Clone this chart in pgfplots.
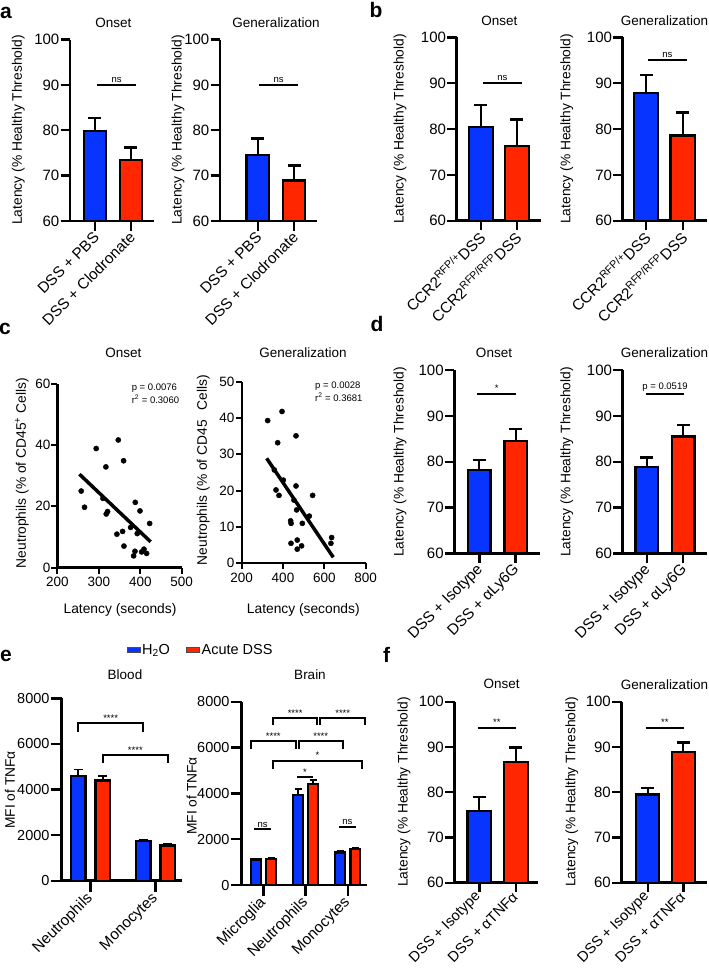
\documentclass[border=0pt]{standalone}
\usepackage{fontspec}
\setmainfont{Liberation Sans}
\usepackage{pgfplots}
\pgfplotsset{compat=1.18}
\definecolor{pblue}{RGB}{8,52,255}
\definecolor{pred}{RGB}{255,38,0}
\newcommand\fs[1]{\fontsize{#1}{#1}\selectfont}
\pgfplotsset{
 base/.style={scale only axis, clip mode=individual, axis x line*=bottom, axis y line*=left,
   axis line style={-,line width=2.6pt,black}, tick align=outside, major tick length=9.5pt,
   every tick/.style={black,line width=2.4pt},
   /pgf/number format/assume math mode=true, /pgf/number format/1000 sep={},
   scaled y ticks=false, scaled x ticks=false, tick label style={font=\fs{15}},
   yticklabel style={inner sep=1pt}},
 latbar/.style={base, ymin=60, ymax=100, ytick={60,70,80,90,100}, xtick={0,1},
   xticklabel style={rotate=45, anchor=east, font=\fs{15.3}, inner sep=3pt, yshift=-4pt, xshift=1pt}},
 pbar/.style={ybar, bar shift=0pt, draw=black, line width=2.3pt, error bars/.cd, y dir=plus, y explicit,
   error mark=|, error bar style={line width=2.3pt, black}, error mark options={black, line width=2.3pt, mark size=6.5pt}},
 sig/.style={black, line width=2pt},
 sc/.style={base, axis line style={-,line width=2.2pt,black}, every tick/.style={black,line width=2pt}, tick label style={font=\fs{13.5}}, major tick length=6pt},
}
\begin{document}
\begin{tikzpicture}
\path[use as bounding box] (0pt,0pt) rectangle (709pt,-969pt);
% panel letters
\node[font=\fs{21}\bfseries] at (6pt,-13pt) {a};
\node[font=\fs{21}\bfseries] at (376pt,-10pt) {b};
\node[font=\fs{21}\bfseries] at (5pt,-329pt) {c};
\node[font=\fs{21}\bfseries] at (377pt,-324pt) {d};
\node[font=\fs{21}\bfseries] at (6pt,-656pt) {e};
\node[font=\fs{21}\bfseries] at (386.7pt,-655pt) {f};
% titles
\begin{scope}[every node/.style={font=\fs{13.5}}]
\node at (113.3pt,-22.7pt) {Onset};
\node at (276pt,-22.7pt) {Generalization};
\node at (499.3pt,-20.7pt) {Onset};
\node at (664.5pt,-20.7pt) {Generalization};
\node at (123.3pt,-353pt) {Onset};
\node at (303pt,-353pt) {Generalization};
\node at (494pt,-353.3pt) {Onset};
\node at (664.5pt,-353pt) {Generalization};
\node at (125pt,-674.3pt) {Blood};
\node at (310pt,-674.3pt) {Brain};
\node at (501.7pt,-684.3pt) {Onset};
\node at (664.5pt,-684.3pt) {Generalization};
\end{scope}
% y labels
\begin{scope}[every node/.style={font=\fs{13.8}, rotate=90}]
\node at (18.3pt,-130pt) {Latency (\% Healthy Threshold)};
\node at (178pt,-130pt) {Latency (\% Healthy Threshold)};
\node at (400pt,-129pt) {Latency (\% Healthy Threshold)};
\node at (566.7pt,-129pt) {Latency (\% Healthy Threshold)};
\node at (22pt,-473pt) {Neutrophils (\% of CD45\textsuperscript{+} Cells)};
\node at (203pt,-470pt) {Neutrophils (\% of CD45\phantom{\textsuperscript{+}} Cells)};
\node at (400pt,-462pt) {Latency (\% Healthy Threshold)};
\node at (566.7pt,-462pt) {Latency (\% Healthy Threshold)};
\node at (10pt,-790pt) {MFI of TNFα};
\node at (191.7pt,-796pt) {MFI of TNFα};
\node at (404pt,-792pt) {Latency (\% Healthy Threshold)};
\node at (571.7pt,-792pt) {Latency (\% Healthy Threshold)};
\end{scope}
\node[font=\fs{13.8}] at (120pt,-610pt) {Latency (seconds)};
\node[font=\fs{13.8}] at (303.3pt,-610pt) {Latency (seconds)};
\node[font=\fs{9.5}, anchor=west, align=left] at (128.3pt,-388.3pt) {p = 0.0076};
\node[font=\fs{9.5}, anchor=west, align=left] at (128.3pt,-399pt) {r\textsuperscript{2} = 0.3060};
\node[font=\fs{9.5}, anchor=west, align=left] at (311.7pt,-386pt) {p = 0.0028};
\node[font=\fs{9.5}, anchor=west, align=left] at (311.7pt,-397pt) {r\textsuperscript{2} = 0.3681};

% ---------- a left
\begin{axis}[latbar, at={(70pt,-221pt)}, width=84pt, height=181.5pt, xmin=-0.694, xmax=1.639, bar width=0.6,
  xticklabels={DSS + PBS, DSS + Clodronate}]
\addplot[fill=pblue, pbar] coordinates {(0,79.9) +- (0,2.8)};
\addplot[fill=pred, pbar] coordinates {(1,73.4) +- (0,2.8)};
\addplot[sig] coordinates {(0.06,90) (1.14,90)};
\node[font=\fs{9.5}, above, inner sep=2pt] at (axis cs:0.6,90) {ns};
\end{axis}
% ---------- a right
\begin{axis}[latbar, at={(220pt,-221pt)}, width=97.3pt, height=181.5pt, xmin=-1.039, xmax=1.642, bar width=0.62,
  xticklabels={DSS + PBS, DSS + Clodronate}]
\addplot[fill=pblue, pbar] coordinates {(0,74.5) +- (0,3.7)};
\addplot[fill=pred, pbar] coordinates {(1,68.9) +- (0,3.3)};
\addplot[sig] coordinates {(0.04,90) (1.11,90)};
\node[font=\fs{9.5}, above, inner sep=2pt] at (axis cs:0.575,90) {ns};
\end{axis}
% ---------- b left
\begin{axis}[latbar, at={(456.7pt,-220.7pt)}, width=84.3pt, height=183.4pt, xmin=-0.667, xmax=1.675, bar width=0.67,
  xticklabels={CCR2\textsuperscript{RFP/+}DSS, CCR2\textsuperscript{RFP/RFP}DSS}]
\addplot[fill=pblue, pbar] coordinates {(0,80.4) +- (0,4.8)};
\addplot[fill=pred, pbar] coordinates {(1,76.3) +- (0,5.8)};
\addplot[sig] coordinates {(0.06,90) (1.14,90)};
\node[font=\fs{9.5}, above, inner sep=2pt] at (axis cs:0.6,90) {ns};
\end{axis}
% ---------- b right
\begin{axis}[latbar, at={(622.7pt,-220.7pt)}, width=84.3pt, height=183.4pt, xmin=-0.635, xmax=1.662, bar width=0.67,
  xticklabels={CCR2\textsuperscript{RFP/+}DSS, CCR2\textsuperscript{RFP/RFP}DSS}]
\addplot[fill=pblue, pbar] coordinates {(0,87.8) +- (0,4.0)};
\addplot[fill=pred, pbar] coordinates {(1,78.6) +- (0,5.0)};
\addplot[sig] coordinates {(0.05,95) (1.12,95)};
\node[font=\fs{9.5}, above, inner sep=2pt] at (axis cs:0.585,95) {ns};
\end{axis}
% ---------- c left
\begin{axis}[sc, at={(57.5pt,-567.5pt)}, width=124.2pt, height=183.5pt, xmin=200, xmax=500, ymin=0, ymax=60,
  xtick={200,300,400,500}, ytick={0,20,40,60}]
\addplot[only marks, mark=*, mark size=2.6pt, black] coordinates {
(257.3,25.0) (265.3,19.7) (293.5,38.9) (316.9,32.9) (309.7,22.6) (317.7,17.5) (321,18.3) (346.8,41.7)
(359.7,34.9) (343.5,10.9) (357.3,11.8) (360.5,7.0) (376.6,13.1) (387.9,21.3) (399.2,18.5) (392.7,11.1)
(387.1,5.3) (383.9,3.8) (403.2,5.1) (408.9,6.0) (415.3,4.6) (422.6,14.4)};
\addplot[black, line width=3.5pt] coordinates {(253,30.5) (425,8.4)};
\end{axis}
% ---------- c right
\begin{axis}[sc, at={(241.7pt,-563.3pt)}, width=123.9pt, height=181.6pt, xmin=200, xmax=800, ymin=0, ymax=50,
  xtick={200,400,600,800}, ytick={0,10,20,30,40,50}]
\addplot[only marks, mark=*, mark size=2.6pt, black] coordinates {
(325.8,39.3) (395.2,41.8) (374.2,33.2) (462.9,35.1) (366.1,20.2) (380.6,18.7) (358,25.7) (401.6,22.9)
(462.9,21.3) (453,17.4) (466,14.7) (437,11.7) (439,11.0) (493.5,11.0) (527.4,13.0) (543.5,18.7)
(438.7,5.5) (469,6.4) (469,3.9) (490,4.8) (635.5,7.1) (632,5.5)};
\addplot[black, line width=3.5pt] coordinates {(321,28.9) (643.5,1.65)};
\end{axis}
% ---------- d left
\begin{axis}[latbar, at={(454.3pt,-553.5pt)}, width=85.7pt, height=183.5pt, xmin=-0.687, xmax=1.668, bar width=0.62,
  xticklabels={DSS + Isotype, DSS + αLy6G}]
\addplot[fill=pblue, pbar] coordinates {(0,78.2) +- (0,2.2)};
\addplot[fill=pred, pbar] coordinates {(1,84.6) +- (0,2.5)};
\addplot[sig] coordinates {(-0.05,94.8) (1.01,94.8)};
\node[font=\fs{9.5}, above, inner sep=2pt] at (axis cs:0.48,94.8) {*};
\end{axis}
% ---------- d right
\begin{axis}[latbar, at={(622.7pt,-553.5pt)}, width=84.3pt, height=183.5pt, xmin=-0.656, xmax=1.648, bar width=0.62,
  xticklabels={DSS + Isotype, DSS + αLy6G}]
\addplot[fill=pblue, pbar] coordinates {(0,78.9) +- (0,2.0)};
\addplot[fill=pred, pbar] coordinates {(1,85.5) +- (0,2.5)};
\addplot[sig] coordinates {(-0.03,94.8) (1.03,94.8)};
\node[font=\fs{9.5}, above, inner sep=2pt] at (axis cs:0.5,94.8) {p = 0.0519};
\end{axis}
% ---------- e blood
\begin{axis}[base, at={(61.7pt,-880.7pt)}, width=120pt, height=182.4pt, xmin=-0.443, xmax=1.403, ymin=0, ymax=8000,
  ytick={0,2000,4000,6000,8000}, xtick={0,1}, xticklabels={Neutrophils, Monocytes}, bar width=0.23,
  major tick length=11pt,
  tick label style={font=\fs{14.5}}, xticklabel style={rotate=45, anchor=east, font=\fs{15.3}, inner sep=3pt, yshift=-3pt},
  legend style={at={(1.157,1.265)}, anchor=center, draw=none, fill=none, legend columns=2, font=\fs{14.5},
    /tikz/every even column/.append style={column sep=14pt}}]
\addlegendimage{legend image code/.code={\draw[fill=pblue, draw=black!70, line width=0.6pt] (0pt,-2.2pt) rectangle (13pt,2.2pt);}}
\addlegendentry{H\textsubscript{2}O}
\addlegendimage{legend image code/.code={\draw[fill=pred, draw=black!70, line width=0.6pt] (0pt,-2.2pt) rectangle (13pt,2.2pt);}}
\addlegendentry{Acute DSS}
\addplot[forget plot, fill=pblue, line width=1.8pt, pbar, error bar style={line width=1.8pt}, error mark options={black,line width=1.8pt,mark size=4.5pt}] coordinates {(-0.19,4600) +- (0,280) (0.81,1750) +- (0,40)};
\addplot[forget plot, fill=pred, line width=1.8pt, pbar, error bar style={line width=1.8pt}, error mark options={black,line width=1.8pt,mark size=4.5pt}] coordinates {(0.19,4400) +- (0,180) (1.19,1550) +- (0,50)};
\addplot[forget plot, sig] coordinates {(-0.19,6530) (-0.19,6900) (0.81,6900) (0.81,6530)};
\addplot[forget plot, sig] coordinates {(0.19,5170) (0.19,5510) (1.19,5510) (1.19,5170)};
\node[font=\fs{9.5}, above, inner sep=1.5pt] at (axis cs:0.31,6900) {****};
\node[font=\fs{9.5}, above, inner sep=1.5pt] at (axis cs:0.69,5510) {****};
\end{axis}
% ---------- e brain
\begin{axis}[base, at={(241.7pt,-885pt)}, width=125pt, height=183.3pt, xmin=-0.52, xmax=2.449, ymin=0, ymax=8000,
  ytick={0,2000,4000,6000,8000}, xtick={0,1,2}, xticklabels={Microglia, Neutrophils, Monocytes}, bar width=0.235,
  major tick length=11pt,
  tick label style={font=\fs{14.5}}, xticklabel style={rotate=45, anchor=east, font=\fs{15.3}, inner sep=3pt, yshift=-3pt}]
\addplot[fill=pblue, line width=1.6pt, pbar, error bar style={line width=1.6pt}, error mark options={black,line width=1.6pt,mark size=3.5pt}] coordinates {(-0.18,1120) +- (0,45) (0.82,3930) +- (0,250) (1.82,1420) +- (0,60)};
\addplot[fill=pred, line width=1.6pt, pbar, error bar style={line width=1.6pt}, error mark options={black,line width=1.6pt,mark size=3.5pt}] coordinates {(0.18,1135) +- (0,40) (1.18,4400) +- (0,185) (2.18,1560) +- (0,55)};
\addplot[sig] coordinates {(0.23,7000) (0.23,7300) (1.27,7300) (1.27,7000)};
\addplot[sig] coordinates {(1.35,7000) (1.35,7300) (2.41,7300) (2.41,7000)};
\addplot[sig] coordinates {(-0.30,5920) (-0.30,6290) (0.76,6290) (0.76,5920)};
\addplot[sig] coordinates {(0.835,5920) (0.835,6290) (1.88,6290) (1.88,5920)};
\addplot[sig] coordinates {(0.23,5050) (0.23,5430) (2.33,5430) (2.33,5050)};
\addplot[sig] coordinates {(0.80,4700) (1.17,4700)};
\addplot[sig] coordinates {(-0.22,2430) (0.17,2430)};
\addplot[sig] coordinates {(1.79,2545) (2.19,2545)};
\begin{scope}[every node/.style={font=\fs{9.5}, above, inner sep=1.5pt}]
\node at (axis cs:0.75,7300) {****};
\node at (axis cs:1.88,7300) {****};
\node at (axis cs:0.23,6290) {****};
\node at (axis cs:1.357,6290) {****};
\node at (axis cs:1.28,5430) {*};
\node at (axis cs:0.985,4700) {*};
\node at (axis cs:-0.025,2430) {ns};
\node at (axis cs:1.99,2545) {ns};
\end{scope}
\end{axis}
% ---------- f left
\begin{axis}[latbar, at={(454.5pt,-882.7pt)}, width=83.8pt, height=181pt, xmin=-0.676, xmax=1.608, bar width=0.64,
  xticklabels={DSS + Isotype, DSS + αTNFα}, xticklabel style={font=\fs{14.6}, yshift=3pt}]
\addplot[fill=pblue, pbar] coordinates {(0,75.9) +- (0,3.1)};
\addplot[fill=pred, pbar] coordinates {(1,86.7) +- (0,3.2)};
\addplot[sig] coordinates {(-0.04,94.2) (1.0,94.2)};
\node[font=\fs{9.5}, above, inner sep=2pt] at (axis cs:0.48,94.2) {**};
\end{axis}
% ---------- f right
\begin{axis}[latbar, at={(621.5pt,-882.7pt)}, width=85.2pt, height=181pt, xmin=-0.736, xmax=1.657, bar width=0.64,
  xticklabels={DSS + Isotype, DSS + αTNFα}, xticklabel style={font=\fs{14.6}, yshift=3pt}]
\addplot[fill=pblue, pbar] coordinates {(0,79.5) +- (0,1.4)};
\addplot[fill=pred, pbar] coordinates {(1,88.9) +- (0,2.1)};
\addplot[sig] coordinates {(-0.06,94.2) (1.02,94.2)};
\node[font=\fs{9.5}, above, inner sep=2pt] at (axis cs:0.48,94.2) {**};
\end{axis}
\end{tikzpicture}
\end{document}
